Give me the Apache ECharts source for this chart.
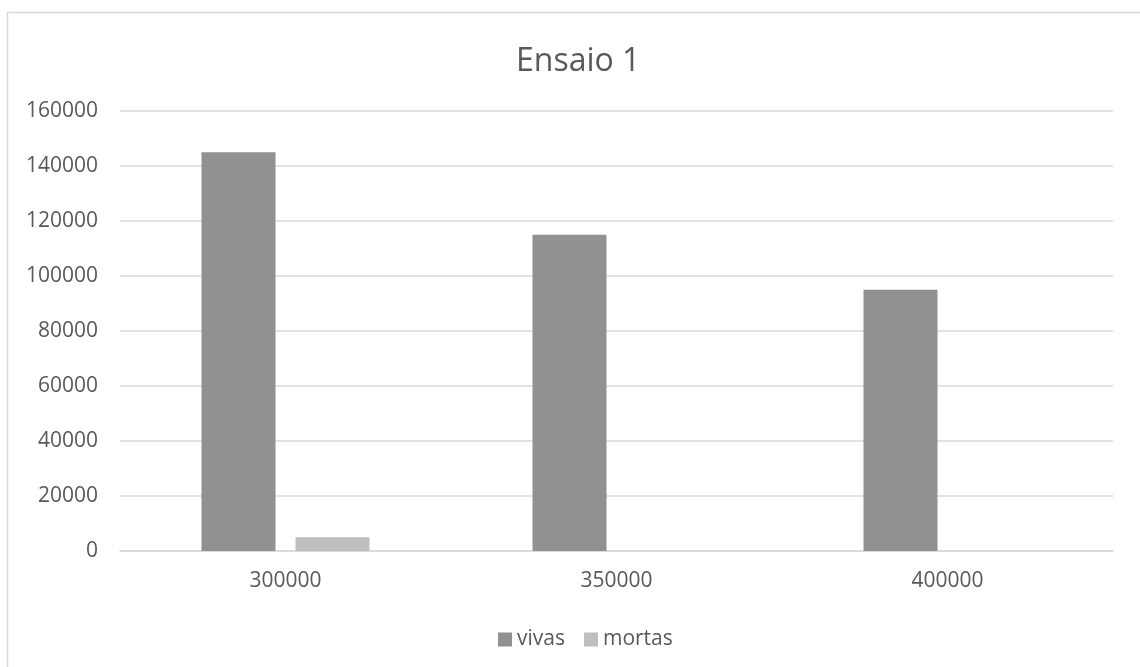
<!DOCTYPE html>
<html>
<head>
<meta charset="utf-8">
<title>Ensaio 1</title>
<script src="https://cdn.jsdelivr.net/npm/echarts@6/dist/echarts.min.js"></script>
<style>
  html, body { margin: 0; padding: 0; background: #fff; }
  #chart { width: 1140px; height: 667px; }
</style>
</head>
<body>
<div id="chart"></div>
<script>
// Concentrations tested (x categories)
const categories = ['300000', '350000', '400000'];
// Cell counts per concentration
const vivas = [145000, 115000, 95000];
const mortas = [5000, 0, 0];
// Value axis ticks
const yMin = 0;
const yMax = 160000;
const yStep = 20000;

const textColor = '#595959';
const lineColor = '#d9d9d9';
const fontFamily = '"Open Sans", "Noto Sans", sans-serif';

const chart = echarts.init(document.getElementById('chart'), null, { renderer: 'canvas' });

chart.setOption({
  backgroundColor: '#ffffff',
  animation: false,
  textStyle: { fontFamily: fontFamily },
  graphic: [{
    type: 'rect',
    shape: { x: 7.5, y: 12.5, width: 1300, height: 800 },
    style: { fill: 'none', stroke: lineColor, lineWidth: 1.5 },
    silent: true
  }],
  title: {
    text: 'Ensaio 1',
    left: 511,
    top: 41,
    textStyle: { color: textColor, fontSize: 32, fontWeight: 'normal', fontFamily: fontFamily }
  },
  legend: {
    data: ['vivas', 'mortas'],
    left: 493,
    top: 624,
    icon: 'rect',
    itemWidth: 14,
    itemHeight: 14,
    itemGap: 19,
    textStyle: { color: textColor, fontSize: 21, fontFamily: fontFamily }
  },
  grid: { left: 120, right: 27, top: 111, bottom: 116, containLabel: false },
  xAxis: {
    type: 'category',
    data: categories,
    axisLine: { show: true, lineStyle: { color: lineColor, width: 1.5 } },
    axisTick: { show: false },
    axisLabel: { color: textColor, fontSize: 21, margin: 20, fontFamily: fontFamily },
    splitLine: { show: false }
  },
  yAxis: {
    type: 'value',
    min: yMin,
    max: yMax,
    interval: yStep,
    axisLine: { show: false },
    axisTick: { show: false },
    axisLabel: {
      color: textColor,
      fontSize: 21,
      margin: 22,
      fontFamily: fontFamily,
      formatter: function (v) { return String(v); }
    },
    splitLine: { show: true, lineStyle: { color: lineColor, width: 1.5 } }
  },
  series: [
    {
      name: 'vivas',
      type: 'bar',
      data: vivas,
      barWidth: 74,
      barGap: '27%',
      itemStyle: { color: '#919191' }
    },
    {
      name: 'mortas',
      type: 'bar',
      data: mortas,
      barWidth: 74,
      barGap: '27%',
      itemStyle: { color: '#bfbfbf' }
    }
  ]
});
</script>
</body>
</html>
